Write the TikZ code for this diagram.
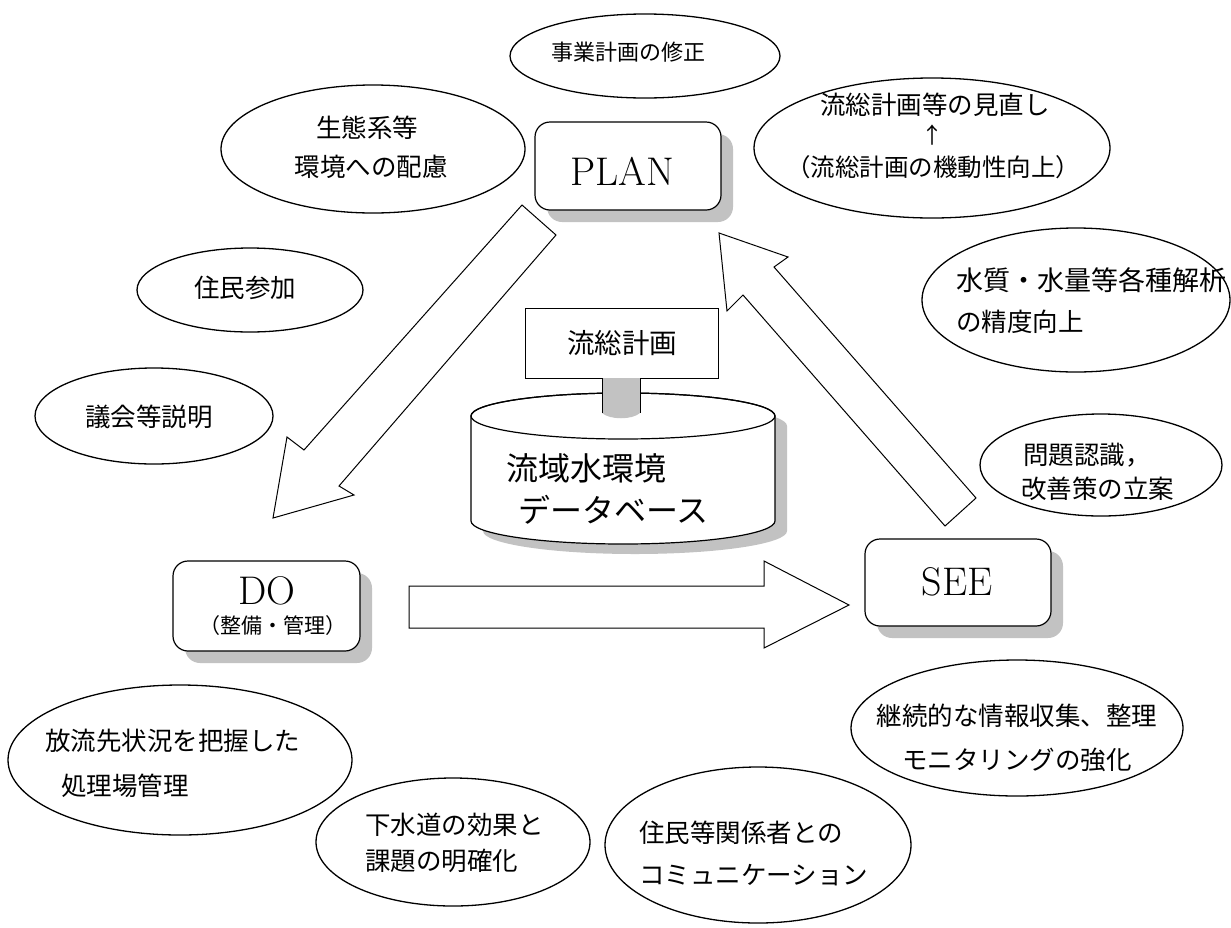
\documentclass[tikz,border=0pt]{standalone}
\usepackage{fontspec}
\newfontfamily\jp{Noto Sans CJK JP}
\usetikzlibrary{shapes.geometric,shadows,calc}
\begin{document}
\begin{tikzpicture}[x=1pt,y=-1pt,
  ell/.style={draw, ellipse, line width=1.3pt, inner sep=0pt},
  jt/.style={font=\jp\fontsize{25.5}{30}\selectfont, inner sep=0pt},
  lab/.style={font=\fontsize{40}{44}\selectfont, inner sep=0pt},
  pbox/.style={draw, rectangle, rounded corners=15pt, line width=1.2pt, fill=white, inner sep=0pt,
    drop shadow={shadow xshift=12pt, shadow yshift=-12pt, fill=black!24, opacity=1}},
  blk/.style={draw, fill=white, line width=1pt, line join=miter},
  shadowc/.style={fill=black!24}]
\useasboundingbox (0,0) rectangle (1231,927);

% ---------- ellipses ----------
\node[ell, minimum width=270pt, minimum height=84pt]  (e1)  at (645,56)  {};
\node[ell, minimum width=304pt, minimum height=128pt] (e2)  at (373,149) {};
\node[ell, minimum width=226pt, minimum height=84pt]  (e3)  at (250,290) {};
\node[ell, minimum width=238pt, minimum height=96pt]  (e4)  at (154,416) {};
\node[ell, minimum width=356pt, minimum height=140pt] (e5)  at (932,148) {};
\node[ell, minimum width=308pt, minimum height=144pt] (e6)  at (1076,300) {};
\node[ell, minimum width=242pt, minimum height=102pt] (e7)  at (1101,465) {};
\node[ell, minimum width=332pt, minimum height=136pt] (e8)  at (1017,728) {};
\node[ell, minimum width=306pt, minimum height=156pt] (e9)  at (758,845) {};
\node[ell, minimum width=274pt, minimum height=128pt] (e10) at (453,842) {};
\node[ell, minimum width=344pt, minimum height=150pt] (e11) at (180,760) {};

% ---------- ellipse texts ----------
\node[jt, font=\jp\fontsize{22}{26}\selectfont] (t1) at (628,52) {事業計画の修正};
\node[jt] (t2a) at (367,128) {生態系等};
\node[jt] (t2b) at (371,167) {環境への配慮};
\node[jt] (t3) at (245,288) {住民参加};
\node[jt] (t4) at (149,417) {議会等説明};
\node[jt] (t5a) at (935,105) {流総計画等の見直し};
\node[jt, font=\jp\fontsize{22}{26}\selectfont] (t5b) at (932,135) {↑};
\node[jt, font=\jp\fontsize{24.5}{30}\selectfont] (t5c) at (933,167) {（流総計画の機動性向上）};
\node[jt, anchor=west, font=\jp\fontsize{27}{30}\selectfont] (t6a) at (956,280) {水質・水量等各種解析};
\node[jt, anchor=west] (t6b) at (956,322) {の精度向上};
\node[jt, anchor=west] (t7a) at (1023,455) {問題認識，};
\node[jt, anchor=west] (t7b) at (1021,489) {改善策の立案};
\node[jt] (t8a) at (1017,716) {継続的な情報収集、整理};
\node[jt] (t8b) at (1017,760) {モニタリングの強化};
\node[jt, anchor=west] (t9a) at (639,833) {住民等関係者との};
\node[jt, anchor=west] (t9b) at (639,875) {コミュニケーション};
\node[jt, anchor=west] (t10a) at (365,825) {下水道の効果と};
\node[jt, anchor=west] (t10b) at (365,861) {課題の明確化};
\node[jt, anchor=west] (t11a) at (45,741) {放流先状況を把握した};
\node[jt, anchor=west] (t11b) at (61,786) {処理場管理};

% ---------- database cylinder ----------
\path[shadowc, shift={(12,10)}] (471,416) -- (471,521)
  arc[start angle=180, end angle=0, x radius=152, y radius=23] -- (775,416)
  arc[start angle=0, end angle=-180, x radius=152, y radius=23] -- cycle;
\path[draw, fill=white, line width=1.2pt] (471,416) -- (471,521)
  arc[start angle=180, end angle=0, x radius=152, y radius=23] -- (775,416)
  arc[start angle=0, end angle=-180, x radius=152, y radius=23] -- cycle;
\node[draw, ellipse, line width=1.2pt, minimum width=304pt, minimum height=46pt, inner sep=0pt] (dbtop) at (623,416) {};
\node[jt, anchor=west, font=\jp\fontsize{32}{36}\selectfont] (db1) at (506,468) {流域水環境};
\node[jt, anchor=west, font=\jp\fontsize{32}{36}\selectfont] (db2) at (518,510) {データベース};

% ---------- plan box ----------
\node[draw, rectangle, line width=1pt, fill=white, minimum width=193pt, minimum height=70pt, inner sep=0pt] (ryu) at (621.5,343) {};
\node[jt, font=\jp\fontsize{27.5}{30}\selectfont] (ryut) at (622,343) {流総計画};
\path[shadowc] (602,378) -- (602,413) .. controls (610,420) and (632,420) .. (640,413) -- (640,378) -- cycle;
\draw[line width=0.6pt] (602,378) -- (602,413) (640,378) -- (640,413);

% ---------- PLAN / DO / SEE ----------
\node[pbox, minimum width=186pt, minimum height=88pt] (plan) at (628,166) {};
\node[lab] (plant) at (622,171) {PLAN};
\node[pbox, minimum width=187pt, minimum height=90pt] (do) at (266.5,606) {};
\node[lab] (dot) at (267,591) {DO};
\node[jt, font=\jp\fontsize{21}{24}\selectfont] (dosub) at (273,626) {（整備・管理）};
\node[pbox, minimum width=186pt, minimum height=87pt] (see) at (958,582.5) {};
\node[lab] (seet) at (957,582) {SEE};

% ---------- block arrows ----------
% PLAN -> DO
\coordinate (a1) at (522,205); \coordinate (a2) at (556,235);
\coordinate (a3) at (339,486); \coordinate (a4) at (354,495);
\coordinate (a5) at (273,518); \coordinate (a6) at (287,437);
\coordinate (a7) at (304,450);
\draw[blk] (a1) -- (a2) -- (a3) -- (a4) -- (a5) -- (a6) -- (a7) -- cycle;
% DO -> SEE
\coordinate (b1) at (409,586); \coordinate (b2) at (764,586);
\coordinate (b3) at (764,561); \coordinate (b4) at (849,605);
\coordinate (b5) at (764,648); \coordinate (b6) at (764,628);
\coordinate (b7) at (409,628);
\draw[blk] (b1) -- (b2) -- (b3) -- (b4) -- (b5) -- (b6) -- (b7) -- cycle;
% SEE -> PLAN
\coordinate (c1) at (945,526); \coordinate (c2) at (743,295);
\coordinate (c3) at (727,311); \coordinate (c4) at (719,233);
\coordinate (c5) at (788,257); \coordinate (c6) at (774,267);
\coordinate (c7) at (976,498);
\draw[blk] (c1) -- (c2) -- (c3) -- (c4) -- (c5) -- (c6) -- (c7) -- cycle;
\end{tikzpicture}
\end{document}
